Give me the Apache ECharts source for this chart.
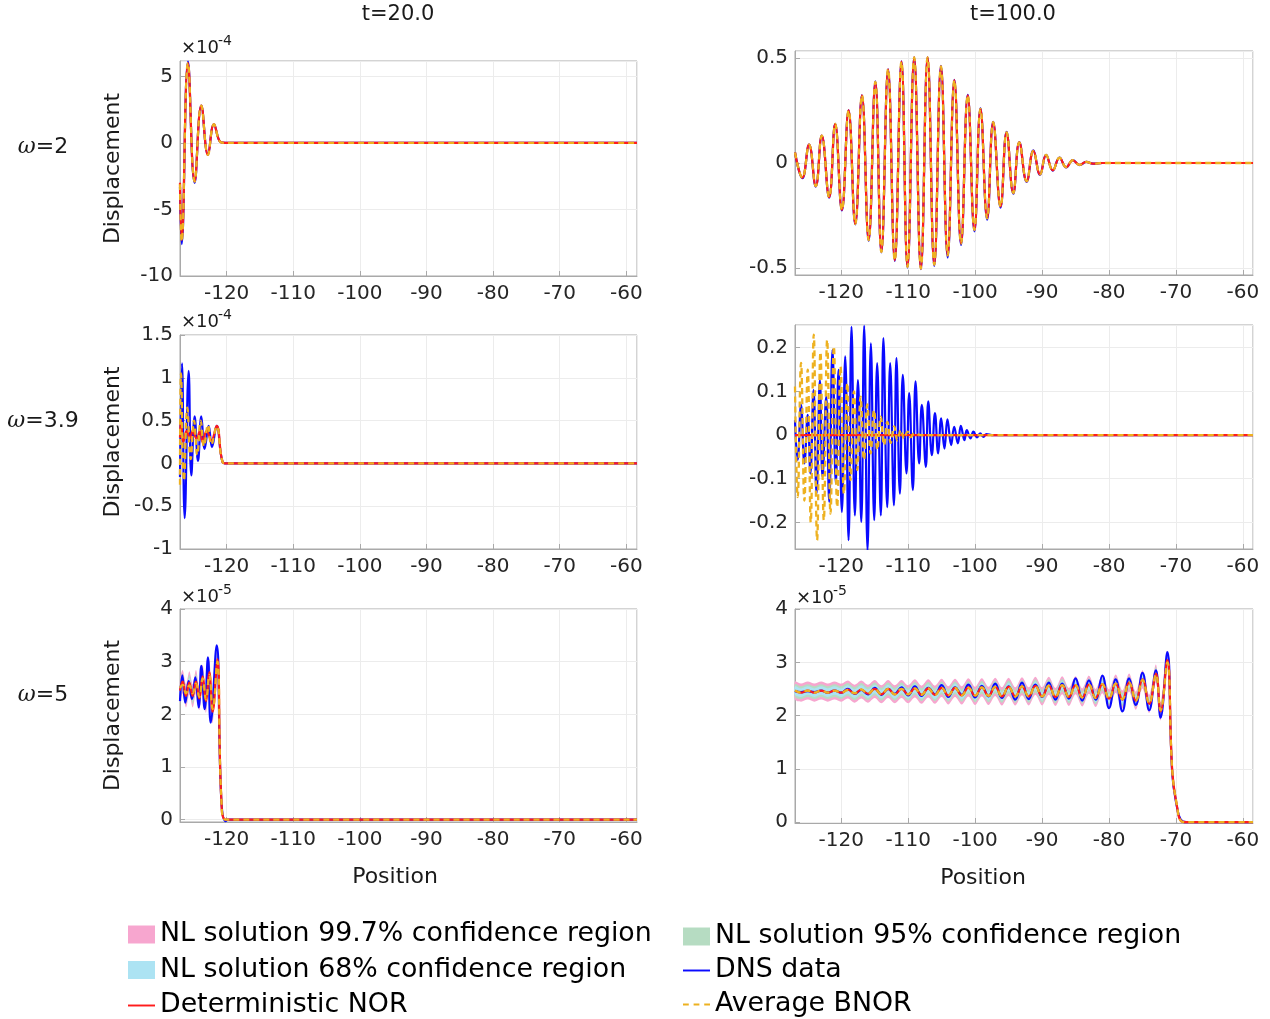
<!DOCTYPE html>
<html><head><meta charset="utf-8">
<script src="https://cdn.jsdelivr.net/npm/echarts/dist/echarts.min.js"></script>
<style>html,body{margin:0;padding:0;background:#fff}#chart{width:1270px;height:1019px}</style>
</head><body><div id="chart"></div>
<script>
// ---------- DATA ----------
// Panel A: omega=2, t=20 (values x1e-4)
const A_pos  = [-127, -126.75, -125.8, -124.8, -123.8, -122.8, -121.9, -120.9, -120.2, -58.4];
const A_dns  = [-3.3, -7.6, 6.1, -3.0, 2.8, -0.9, 1.4, 0.05, 0, 0];
const A_nor  = [-3.0, -7.3, 6.0, -2.9, 2.8, -0.9, 1.4, 0.05, 0, 0];
const A_bnor = [-3.1, -7.4, 6.0, -2.9, 2.8, -0.9, 1.4, 0.05, 0, 0];

// Panel B: omega=3.9, t=20 (values x1e-4)
const B_dns_pos = [-127, -126.7, -126.3, -125.7, -125.3, -124.8, -124.3, -123.8, -123.3, -122.7, -122.2, -121.5, -120.6, -120.0, -58.4];
const B_dns     = [-0.16, 1.17, -0.64, 1.08, -0.14, 0.55, 0.03, 0.55, 0.17, 0.44, 0.19, 0.44, 0.015, 0, 0];
const B_nor_pos = [-127, -126.85, -126.5, -126.0, -125.5, -125.1, -124.5, -124.0, -123.6, -123.0, -122.3, -121.5, -120.6, -120.0, -58.4];
const B_nor     = [0.3, 0.5, 0.25, 0.38, 0.29, 0.38, 0.29, 0.38, 0.25, 0.38, 0.27, 0.44, 0.015, 0, 0];
const B_bnor_pos = [-127, -126.85, -126.4, -125.9, -125.4, -124.9, -124.4, -123.9, -123.4, -122.8, -122.3, -121.5, -120.6, -120.0, -58.4];
const B_bnor     = [-0.25, 1.05, -0.2, 0.65, 0.05, 0.5, 0.1, 0.5, 0.2, 0.45, 0.22, 0.43, 0.015, 0, 0];

// Panel C: omega=5, t=20 (values x1e-5)
const C_dns_pos = [-127, -126.65, -126.2, -125.7, -125.2, -124.7, -124.2, -123.8, -123.3, -122.8, -122.4, -121.5, -120.8, -120.15, -119.8, -58.4];
const C_dns     = [2.25, 2.74, 2.22, 2.63, 2.29, 2.70, 2.13, 2.92, 2.1, 3.08, 1.84, 3.31, 0.38, -0.03, 0, 0];
const C_pos  = [-127, -126.6, -126.1, -125.6, -125.1, -124.6, -124.1, -123.6, -123.1, -122.6, -122.1, -121.4, -120.8, -120.15, -58.4];
const C_nor  = [2.45, 2.62, 2.35, 2.6, 2.35, 2.62, 2.3, 2.72, 2.25, 2.8, 2.05, 3.05, 0.4, 0, 0];
const C_bnor = [2.5, 2.56, 2.4, 2.55, 2.4, 2.58, 2.33, 2.68, 2.28, 2.75, 2.1, 3.0, 0.42, 0, 0];
const C_bandEnd = -120.8;
const C_w997 = 0.22, C_w95 = 0.15, C_w68 = 0.09;

// Panel D: omega=2, t=100
const D_pos = [-126.9,-125.8,-124.8,-123.8,-122.9,-121.8,-120.9,-119.9,-118.9,-117.9,-116.9,-115.9,-114.9,-114.0,-113.0,-112.0,-111.0,-110.1,-109.1,-108.1,-107.1,-106.1,-105.1,-104.1,-103.1,-102.1,-101.1,-100.1,-99.2,-98.2,-97.3,-96.2,-95.3,-94.3,-93.4,-92.3,-91.3,-90.3,-89.4,-88.4,-87.4,-86.4,-85.4,-84.4,-83.4,-82.4,-81.0,-58.5];
const D_nor = [0.05,-0.07,0.087,-0.11,0.13,-0.163,0.186,-0.223,0.25,-0.29,0.322,-0.367,0.386,-0.423,0.446,-0.463,0.482,-0.495,0.503,-0.503,0.503,-0.484,0.46,-0.44,0.394,-0.383,0.322,-0.319,0.258,-0.263,0.194,-0.207,0.146,-0.143,0.098,-0.087,0.058,-0.054,0.038,-0.035,0.025,-0.02,0.013,-0.009,0.005,-0.003,0,0];
const D_dns = [0.05,-0.072,0.088,-0.112,0.13,-0.165,0.186,-0.226,0.25,-0.292,0.322,-0.37,0.388,-0.425,0.446,-0.466,0.484,-0.498,0.503,-0.505,0.503,-0.49,0.462,-0.45,0.396,-0.39,0.324,-0.325,0.26,-0.27,0.196,-0.212,0.148,-0.146,0.1,-0.09,0.06,-0.056,0.039,-0.036,0.026,-0.021,0.014,-0.01,0.005,-0.003,0,0];
const D_bnor = [0.05,-0.07,0.087,-0.11,0.13,-0.163,0.186,-0.223,0.25,-0.29,0.322,-0.367,0.386,-0.423,0.446,-0.463,0.482,-0.495,0.503,-0.503,0.503,-0.484,0.46,-0.44,0.394,-0.383,0.322,-0.319,0.258,-0.263,0.194,-0.207,0.146,-0.143,0.098,-0.087,0.058,-0.054,0.038,-0.035,0.025,-0.02,0.013,-0.009,0.005,-0.003,0,0];

// Panel E: omega=3.9, t=100
const E_dns_pos = [-126.9,-126.5,-126.0,-125.5,-125.0,-124.6,-124.13,-123.68,-123.18,-122.79,-122.24,-121.79,-121.3,-120.8,-120.4,-119.9,-119.4,-118.9,-118.46,-117.96,-117.5,-117.0,-116.57,-116.07,-115.57,-115.07,-114.63,-114.08,-113.7,-113.13,-112.69,-112.13,-111.75,-111.24,-110.8,-110.25,-109.85,-109.3,-108.9,-108.36,-107.96,-107.36,-107.0,-106.46,-106.0,-105.52,-105.07,-104.58,-104.13,-103.58,-103.13,-102.58,-102.13,-101.6,-101.24,-100.7,-100.25,-99.7,-99.25,-98.76,-98.3,-97.5,-58.5];
const E_dns = [0.034,-0.057,0.069,-0.065,0.046,-0.088,0.103,-0.134,0.126,-0.096,0.088,-0.153,0.195,-0.111,0.149,-0.176,0.18,-0.241,0.248,-0.184,0.126,-0.199,0.25,-0.264,0.21,-0.195,0.165,-0.184,0.222,-0.165,0.165,-0.161,0.176,-0.134,0.138,-0.088,0.096,-0.126,0.123,-0.065,0.069,-0.073,0.077,-0.046,0.05,-0.042,0.038,-0.031,0.036,-0.023,0.019,-0.019,0.021,-0.0115,0.0115,-0.0077,0.0077,-0.0054,0.004,-0.004,0.002,0,0];
const E_bnor_pos = [-126.9,-126.5,-126.0,-125.5,-125.0,-124.55,-124.1,-123.6,-123.1,-122.6,-122.1,-121.6,-121.1,-120.6,-120.1,-119.6,-119.1,-118.6,-118.1,-117.6,-117.1,-116.6,-116.1,-115.6,-115.1,-114.6,-114.1,-113.6,-113.1,-112.6,-112.1,-111.6,-111.1,-110.6,-110.1,-109.6,-109.1,-108.0,-58.5];
const E_bnor = [0.111,-0.142,0.165,-0.15,0.15,-0.2,0.23,-0.241,0.19,-0.195,0.218,-0.18,0.203,-0.165,0.157,-0.134,0.119,-0.103,0.1,-0.08,0.088,-0.057,0.07,-0.042,0.057,-0.034,0.042,-0.023,0.03,-0.018,0.02,-0.012,0.012,-0.008,0.008,-0.005,0.004,0,0];
const E_nor_pos = [-126.9, -58.5];
const E_nor = [0, 0];

// Panel F: omega=5, t=100 (values x1e-5)
const F_pos = [-126.9,-126,-125,-124,-123,-122,-121,-120,-119,-118,-117,-116,-115,-114,-113,-112,-111,-110,-109,-108,-107,-106,-105,-104,-103,-102,-101,-100,-99,-98,-97,-96,-95,-94,-93,-92,-91,-90,-89,-88,-87,-86,-85,-84,-83,-82,-81,-80,-79,-78,-77,-76,-75,-74,-73,-72.3,-71.3,-70.55,-69.8,-69.3,-68.5,-58.5];
const F_nor = [2.47,2.43,2.47,2.43,2.47,2.43,2.47,2.43,2.49,2.41,2.49,2.41,2.5,2.4,2.5,2.4,2.5,2.4,2.51,2.39,2.51,2.39,2.52,2.38,2.52,2.38,2.53,2.37,2.53,2.37,2.54,2.36,2.54,2.36,2.55,2.36,2.56,2.36,2.56,2.35,2.57,2.35,2.57,2.34,2.58,2.33,2.59,2.32,2.6,2.3,2.62,2.28,2.68,2.22,2.79,2.08,3.04,0.94,0.26,0.03,0,0];
const F_dns = [2.46,2.44,2.46,2.44,2.47,2.43,2.47,2.43,2.5,2.41,2.48,2.4,2.52,2.39,2.5,2.41,2.53,2.38,2.55,2.37,2.52,2.4,2.57,2.35,2.53,2.39,2.58,2.34,2.56,2.36,2.6,2.33,2.55,2.3,2.62,2.31,2.58,2.35,2.62,2.3,2.6,2.32,2.7,2.28,2.66,2.3,2.75,2.14,2.68,2.08,2.7,2.2,2.8,2.1,2.85,1.96,3.19,0.9,0.25,0.05,0,0];
const F_bnor = [2.47,2.43,2.47,2.43,2.47,2.43,2.47,2.43,2.48,2.42,2.49,2.41,2.5,2.4,2.5,2.4,2.5,2.4,2.51,2.39,2.51,2.39,2.52,2.38,2.52,2.38,2.52,2.38,2.53,2.37,2.54,2.36,2.54,2.36,2.55,2.36,2.55,2.36,2.56,2.35,2.57,2.35,2.57,2.34,2.58,2.33,2.59,2.32,2.6,2.31,2.62,2.28,2.67,2.23,2.77,2.1,3.0,0.96,0.27,0.03,0,0];
const F_bandEnd = -70.55;
const F_w997 = 0.17, F_w95 = 0.12, F_w68 = 0.08;

// ---------- names / texts ----------
const N997 = 'NL solution 99.7% confidence region';
const N95  = 'NL solution 95% confidence region';
const N68  = 'NL solution 68% confidence region';
const NDNS = 'DNS data';
const NNOR = 'Deterministic NOR';
const NBNOR = 'Average BNOR';
const colTitles = ['t=20.0', 't=100.0'];
const rowLabels = ['2', '3.9', '5'];
const xName = 'Position';

// ---------- styles ----------
const FF = 'DejaVu Sans';
const C_BLUE = '#0a0aff', C_RED = '#ff1c1c', C_ORANGE = '#edb120';
const C_PINK = '#f7a6cf', C_GREEN = '#b6dcc2', C_CYAN = '#ace3f3';
const BOX = '#a9a9a9';

const grids = [
  {left:180, top:61,  width:457, height:215},
  {left:180, top:335, width:457, height:214},
  {left:180, top:609, width:457, height:213},
  {left:795, top:51,  width:458, height:224},
  {left:795, top:325, width:458, height:224},
  {left:795, top:609, width:458, height:214}
].map(g => Object.assign(g, {show:true, borderColor:BOX, borderWidth:1, backgroundColor:'#fff'}));

const xRanges = [[-127,-58.4],[-127,-58.4],[-127,-58.4],[-126.9,-58.5],[-126.9,-58.5],[-126.9,-58.5]];
const xAxis = xRanges.map((r, i) => ({
  type:'value', gridIndex:i, min:r[0], max:r[1], splitNumber:7,
  axisLine:{show:true, onZero:false, lineStyle:{color:BOX}},
  axisTick:{show:true, inside:true, length:5, lineStyle:{color:BOX}},
  axisLabel:{fontFamily:FF, fontSize:20, color:'#262626', margin:8, showMinLabel:false, showMaxLabel:false},
  splitLine:{show:true, lineStyle:{color:'#ececec', width:1}}
}));

const yCfg = [
  {min:-10, max:6.15, interval:5, minL:true, maxL:false},
  {min:-1, max:1.5, interval:0.5, minL:true, maxL:true},
  {min:-0.045, max:4, splitNumber:4, minL:false, maxL:true},
  {min:-0.533, max:0.533, splitNumber:2, minL:false, maxL:false},
  {min:-0.261, max:0.252, splitNumber:5, minL:false, maxL:false},
  {min:-0.015, max:4, splitNumber:4, minL:false, maxL:true}
];
const yAxis = yCfg.map((c, i) => {
  const a = {
    type:'value', gridIndex:i, min:c.min, max:c.max,
    name: i < 3 ? 'Displacement' : '', nameLocation:'middle', nameGap:56,
    nameTextStyle:{fontFamily:FF, fontSize:22, color:'#1a1a1a'},
    axisLine:{show:true, onZero:false, lineStyle:{color:BOX}},
    axisTick:{show:true, inside:true, length:5, lineStyle:{color:BOX}},
    axisLabel:{fontFamily:FF, fontSize:20, color:'#262626', margin:7, showMinLabel:c.minL, showMaxLabel:c.maxL},
    splitLine:{show:true, lineStyle:{color:'#ececec', width:1}}
  };
  if (c.interval) a.interval = c.interval; else a.splitNumber = c.splitNumber;
  return a;
});

function pairs(xs, ys) { const n = Math.min(xs.length, ys.length); const d = []; for (let i = 0; i < n; i++) d.push([xs[i], ys[i]]); return d; }
function line(name, g, xs, ys, color, dashed, z) {
  return {
    name, type:'line', xAxisIndex:g, yAxisIndex:g, data:pairs(xs, ys),
    symbol:'none', smooth:0.45, clip:true, animation:false, z,
    lineStyle:{color, width: dashed ? 2.3 : 2.2, type: dashed ? [6, 4] : 'solid'},
    itemStyle:{color}
  };
}
function band(name, g, xs, center, w, xEnd, color, z) {
  const ux = [], up = [], lo = [];
  for (let i = 0; i < Math.min(xs.length, center.length); i++) {
    if (xs[i] <= xEnd) { ux.push(xs[i]); up.push(center[i] + w); lo.push(center[i] - w); }
  }
  return {
    name, type:'custom', xAxisIndex:g, yAxisIndex:g, z, animation:false, silent:true,
    itemStyle:{color},
    data:[[ux[0], center[0]]],
    renderItem: function (params, api) {
      if (params.dataIndex !== 0) return null;
      const pts = [];
      for (let i = 0; i < ux.length; i++) pts.push(api.coord([ux[i], up[i]]));
      for (let i = ux.length - 1; i >= 0; i--) pts.push(api.coord([ux[i], lo[i]]));
      return {type:'polygon', shape:{points:pts, smooth:0.3}, style:{fill:color}};
    }
  };
}

const series = [
  band(N997, 2, C_pos, C_nor, C_w997, C_bandEnd, C_PINK, 1),
  band(N95,  2, C_pos, C_nor, C_w95,  C_bandEnd, C_GREEN, 1),
  band(N68,  2, C_pos, C_nor, C_w68,  C_bandEnd, C_CYAN, 1),
  band(N997, 5, F_pos, F_nor, F_w997, F_bandEnd, C_PINK, 1),
  band(N95,  5, F_pos, F_nor, F_w95,  F_bandEnd, C_GREEN, 1),
  band(N68,  5, F_pos, F_nor, F_w68,  F_bandEnd, C_CYAN, 1),
  line(NDNS, 0, A_pos, A_dns, C_BLUE, false, 2),
  line(NDNS, 1, B_dns_pos, B_dns, C_BLUE, false, 2),
  line(NDNS, 2, C_dns_pos, C_dns, C_BLUE, false, 2),
  line(NDNS, 3, D_pos, D_dns, C_BLUE, false, 2),
  line(NDNS, 4, E_dns_pos, E_dns, C_BLUE, false, 2),
  line(NDNS, 5, F_pos, F_dns, C_BLUE, false, 2),
  line(NNOR, 0, A_pos, A_nor, C_RED, false, 3),
  line(NNOR, 1, B_nor_pos, B_nor, C_RED, false, 3),
  line(NNOR, 2, C_pos, C_nor, C_RED, false, 3),
  line(NNOR, 3, D_pos, D_nor, C_RED, false, 3),
  line(NNOR, 4, E_nor_pos, E_nor, C_RED, false, 3),
  line(NNOR, 5, F_pos, F_nor, C_RED, false, 3),
  line(NBNOR, 0, A_pos, A_bnor, C_ORANGE, true, 4),
  line(NBNOR, 1, B_bnor_pos, B_bnor, C_ORANGE, true, 4),
  line(NBNOR, 2, C_pos, C_bnor, C_ORANGE, true, 4),
  line(NBNOR, 3, D_pos, D_bnor, C_ORANGE, true, 4),
  line(NBNOR, 4, E_bnor_pos, E_bnor, C_ORANGE, true, 4),
  line(NBNOR, 5, F_pos, F_bnor, C_ORANGE, true, 4)
];

const ICON_LINE = 'path://M0,0h28v2h-28z';
const ICON_DASH = 'path://M0,0h6v2h-6zM11,0h6v2h-6zM22,0h6v2h-6z';
const legText = {fontFamily:FF, fontSize:26.8, color:'#000', lineHeight:26};
const legend = [
  {left:128, top:921, orient:'vertical', itemWidth:27, itemHeight:18, itemGap:8.5, selectedMode:false, padding:0,
   symbolKeepAspect:true, textStyle:legText,
   data:[{name:N997, icon:'rect'}, {name:N68, icon:'rect'}, {name:NNOR, icon:ICON_LINE}]},
  {left:683, top:923, orient:'vertical', itemWidth:27, itemHeight:18, itemGap:7, selectedMode:false, padding:0,
   symbolKeepAspect:true, textStyle:legText,
   data:[{name:N95, icon:'rect'}, {name:NDNS, icon:ICON_LINE}, {name:NBNOR, icon:ICON_DASH}]}
];

function txt(x, y, text, size, align) {
  return {type:'text', x, y, silent:true,
    style:{text, fontFamily:FF, fontSize:size, fill:'#1a1a1a',
      textAlign:align, align:align, textVerticalAlign:'middle', verticalAlign:'middle'}};
}
const graphic = [
  txt(398, 15, colTitles[0], 21, 'center'),
  txt(1013, 15, colTitles[1], 21, 'center'),
  txt(395, 877, xName, 22, 'center'),
  txt(983, 878, xName, 22, 'center'),
  txt(181, 48, '\u00d710', 18, 'left'), txt(218, 41, '-4', 14, 'left'),
  txt(181, 322, '\u00d710', 18, 'left'), txt(218, 315, '-4', 14, 'left'),
  txt(181, 597, '\u00d710', 18, 'left'), txt(218, 590, '-5', 14, 'left'),
  txt(796, 598, '\u00d710', 18, 'left'), txt(833, 591, '-5', 14, 'left')
];
const rowY = [147, 421, 695];
rowLabels.forEach((r, i) => {
  graphic.push({type:'text', x:43, y:rowY[i], silent:true, style:{
    text:'{w|\u03c9}{n|=' + r + '}', textAlign:'center', align:'center', textVerticalAlign:'middle', verticalAlign:'middle',
    rich:{w:{fontFamily:'DejaVu Serif', fontStyle:'italic', fontSize:22, fill:'#1a1a1a', color:'#1a1a1a'},
          n:{fontFamily:FF, fontSize:22, fill:'#1a1a1a', color:'#1a1a1a'}}
  }});
});

const chart = echarts.init(document.getElementById('chart'), null, {renderer:'canvas'});
chart.setOption({
  backgroundColor:'#fff', animation:false,
  grid:grids, xAxis, yAxis, series, legend, graphic
});
</script></body></html>
